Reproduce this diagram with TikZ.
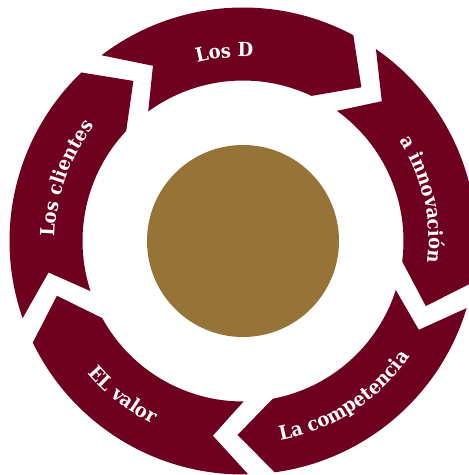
\documentclass[tikz,border=0pt]{standalone}
\usepackage{fontspec}
\newfontfamily\segfont{DejaVu Serif}[FakeStretch=0.92]
\usetikzlibrary{decorations.text}
\definecolor{wine}{RGB}{110,0,32}
\definecolor{ochre}{RGB}{150,116,56}
\begin{document}
\begin{tikzpicture}[x=1pt,y=1pt,
  seg/.style={fill=wine},
  lbl/.style={decorate, decoration={text along path, text align=center,
    text={|\segfont\bfseries\fontsize{19.5}{19.5}\selectfont\color{white}|#1}}}]
\useasboundingbox (0,0) rectangle (469,475);
\begin{scope}[shift={(243,234)}]
  \def\Ro{233.5}\def\Ri{160.5}\def\Rm{194}\def\Rn{197}
  % five ring arrows, running clockwise: pointed head, notched tail
  \foreach \p in {124.4,52.4,-19.6,-91.6,-163.6}{
    \pgfmathsetmacro\q{\p+64.8}
    \fill[seg] (\q+10.1:\Ro) arc[start angle=\q+10.1, end angle=\p+9.4, radius=\Ro]
       -- (\p:\Rm) -- (\p+12.3:\Ri)
       arc[start angle=\p+12.3, end angle=\q+9.0, radius=\Ri]
       -- (\q:\Rn) -- cycle;
  }
  % centre disc
  \fill[ochre] (0,0) circle[radius=96];
  % labels along the ring
  \path[lbl={Los D}] (135.6:184) arc[start angle=135.6, end angle=55.6, radius=184];
  \path[lbl={a innovación}] (53:186) arc[start angle=53, end angle=-27, radius=186];
  \path[lbl={Los clientes}] (200.5:188) arc[start angle=200.5, end angle=120.5, radius=188];
  \path[lbl={La competencia}] (-97:203) arc[start angle=-97, end angle=-17, radius=203];
  \path[lbl={EL valor}] (192:204) arc[start angle=192, end angle=272, radius=204];
\end{scope}
\end{tikzpicture}
\end{document}
